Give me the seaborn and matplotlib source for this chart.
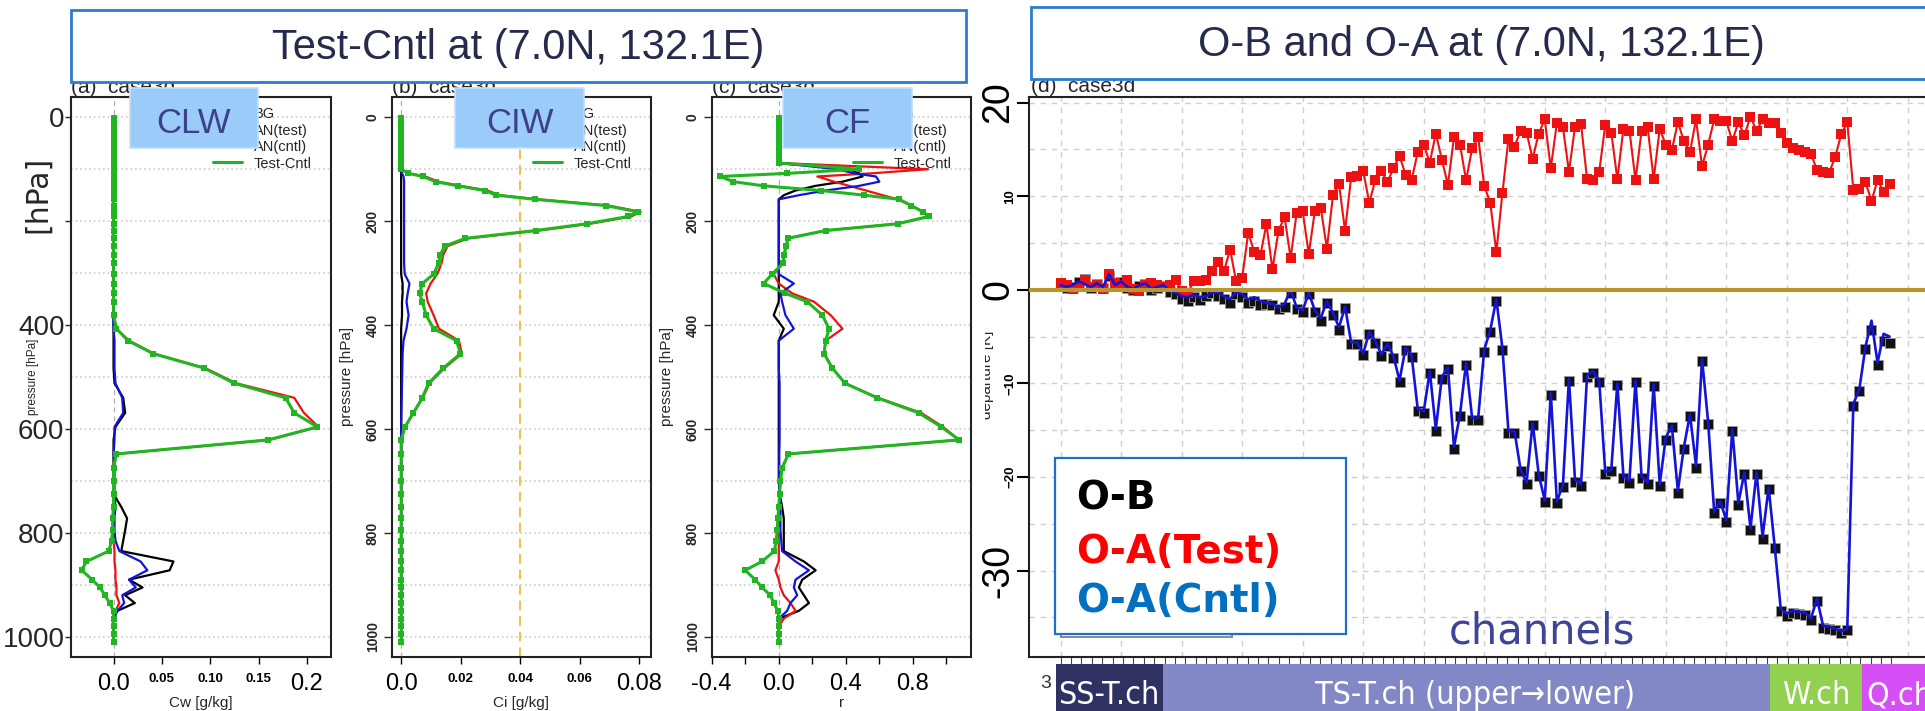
import numpy as np
import pandas as pd
import matplotlib
matplotlib.use("Agg")
import matplotlib.pyplot as plt
import seaborn as sns
from matplotlib.patches import Rectangle
from matplotlib.lines import Line2D
from matplotlib import font_manager as fm

sns.set_style("white")
plt.rcParams["font.family"] = ["Liberation Sans", "DejaVu Sans"]
_fonts = fm.fontManager.ttflist
_narrow = [f for f in _fonts if f.name == "Liberation Sans Narrow" and f.weight in (400, "normal") and f.style == "normal"]
_cond = [f for f in _fonts if f.name == "DejaVu Sans" and f.stretch == "condensed" and f.weight in (400, "normal") and f.style == "normal"]
if _narrow:
    BAND_FONT = dict(fontproperties=fm.FontProperties(fname=_narrow[0].fname, size=26))
elif _cond:
    BAND_FONT = dict(fontproperties=fm.FontProperties(fname=_cond[0].fname, size=23))
else:
    BAND_FONT = dict(family=["Liberation Sans", "DejaVu Sans"], fontsize=21)

# ---------------- data: vertical profiles (panels a-c) ----------------
pressure = [2, 10, 20, 30, 40, 50, 60, 70, 80, 88, 100,
            108, 114, 124, 132, 141, 150, 158, 170, 182, 191,
            205, 218, 233, 248, 265, 281, 302, 320, 339, 355,
            381, 407, 430, 455, 483, 512, 540, 569, 596, 621,
            648, 675, 700, 725, 750, 772, 795, 815, 835, 855,
            872, 890, 905, 920, 935, 950, 965, 980, 995, 1010]

clw_bg = [0, 0, 0, 0, 0, 0, 0, 0, 0, 0, 0,
          0, 0, 0, 0, 0, 0, 0, 0, 0, 0,
          0, 0, 0, 0, 0, 0, 0, 0, 0, 0,
          0, 0, 0, 0, 0, 0.001, 0.010, 0.012, 0.002, 0,
          0, 0, 0, 0, 0.008, 0.014, 0.012, 0.010, 0.008, 0.062,
          0.058, 0.016, 0.030, 0.012, 0.022, 0.004, 0, 0, 0, 0]
clw_test = [0, 0, 0, 0, 0, 0, 0, 0, 0, 0, 0,
            0, 0, 0, 0, 0, 0, 0, 0, 0, 0,
            0, 0, 0, 0, 0, 0, 0, 0, 0, 0,
            0.0, 0.003, 0.016, 0.042, 0.095, 0.127, 0.187, 0.197, 0.212, 0.161,
            0.003, 0, 0, 0, 0, 0, 0, 0, 0.001, 0.001,
            0.002, 0.002, 0.003, 0.003, 0.006, 0.002, 0, 0, 0, 0]
clw_cntl = [0, 0, 0, 0, 0, 0, 0, 0, 0, 0, 0,
            0, 0, 0, 0, 0, 0, 0, 0, 0, 0,
            0, 0, 0, 0, 0, 0, 0, 0, 0, 0,
            0, 0, 0.001, 0.001, 0.001, 0.002, 0.009, 0.010, 0.001, 0.001,
            0, 0.001, 0.001, 0.001, 0.002, 0.001, 0.001, 0.002, 0.006, 0.028,
            0.035, 0.016, 0.023, 0.009, 0.011, 0.004, 0, 0, 0, 0]
clw_diff = [0, 0, 0, 0, 0, 0, 0, 0, 0, 0, 0,
            0, 0, 0, 0, 0, 0, 0, 0, 0, 0,
            0, 0, 0, 0, 0, 0, 0, 0, 0, 0,
            0.0, 0.003, 0.015, 0.041, 0.094, 0.125, 0.178, 0.187, 0.211, 0.160,
            0.003, 0, 0, 0, 0, -0.001, -0.001, -0.002, -0.005, -0.028,
            -0.033, -0.022, -0.014, -0.009, -0.004, 0.0, 0, 0, 0, 0]

ciw_bg = [0, 0, 0, 0, 0, 0, 0, 0, 0, 0, 0,
          0, 0, 0, 0, 0, 0, 0, 0, 0, 0,
          0, 0, 0, 0, 0, 0, 0, 0.0005, 0.0005, 0.0003,
          0.0003, 0, 0, 0, 0, 0, 0, 0, 0, 0,
          0, 0, 0, 0, 0, 0, 0, 0, 0, 0,
          0, 0, 0, 0, 0, 0, 0, 0, 0, 0]
ciw_test = [0, 0, 0, 0, 0, 0, 0, 0, 0, 0, 0,
            0.0027, 0.0081, 0.0126, 0.020, 0.029, 0.033, 0.046, 0.0697, 0.0804, 0.0772,
            0.0633, 0.0462, 0.0226, 0.0156, 0.0141, 0.0136, 0.0121, 0.0099, 0.0084, 0.0089,
            0.0109, 0.0127, 0.0194, 0.0204, 0.0145, 0.0095, 0.0073, 0.0042, 0.0013, 0.0,
            0, 0, 0, 0, 0, 0, 0, 0, 0, 0,
            0, 0, 0, 0, 0, 0, 0, 0, 0, 0]
ciw_cntl = [0, 0, 0, 0, 0, 0, 0, 0, 0, 0, 0,
            0.0003, 0.0008, 0.001, 0.001, 0.001, 0.001, 0.001, 0.001, 0.001, 0.001,
            0.001, 0.001, 0.001, 0.001, 0.001, 0.001, 0.0012, 0.0028, 0.0022, 0.0018,
            0.0025, 0.0018, 0.0008, 0.0005, 0.0004, 0.0003, 0.0002, 0.0001, 0.0, 0.0,
            0, 0, 0, 0, 0, 0, 0, 0, 0, 0,
            0, 0, 0, 0, 0, 0, 0, 0, 0, 0]
ciw_diff = [0, 0, 0, 0, 0, 0, 0, 0, 0, 0, 0,
            0.0024, 0.0073, 0.0116, 0.019, 0.028, 0.032, 0.045, 0.0687, 0.0794, 0.0762,
            0.0623, 0.0452, 0.0216, 0.0146, 0.0131, 0.0126, 0.0109, 0.0071, 0.0062, 0.0071,
            0.0084, 0.0109, 0.0186, 0.0199, 0.0141, 0.0092, 0.0071, 0.0041, 0.0013, 0.0,
            0, 0, 0, 0, 0, 0, 0, 0, 0, 0,
            0, 0, 0, 0, 0, 0, 0, 0, 0, 0]

cf_bg = [0, 0, 0, 0, 0, 0, 0, 0, 0, 0, 0.42,
         0.48, 0.50, 0.38, 0.22, 0.10, 0.03, 0.0, 0, 0, 0,
         0, 0, 0, 0, 0, 0, 0, 0, 0, 0,
         -0.03, 0.03, 0, 0, 0, 0, 0, 0, 0, 0,
         0, 0, 0, 0.005, 0.02, 0.03, 0.03, 0.03, 0.03, 0.15,
         0.22, 0.14, 0.12, 0.15, 0.18, 0.12, 0.0, 0, 0, 0]
cf_test = [0, 0, 0, 0, 0, 0, 0, 0, 0, 0, 0.89,
           0.55, 0.23, 0.33, 0.42, 0.52, 0.62, 0.71, 0.79, 0.86, 0.895,
           0.71, 0.28, 0.054, 0.045, 0.03, 0.025, -0.03, 0.0, 0.08, 0.21,
           0.31, 0.38, 0.28, 0.27, 0.32, 0.395, 0.59, 0.85, 0.98, 1.076,
           0.058, 0.02, 0.01, 0.005, 0.0, 0.0, 0.0, 0.0, 0.0, 0.0,
           -0.02, 0.0, 0.01, 0.03, 0.07, 0.10, 0.03, 0, 0, 0]
cf_cntl = [0, 0, 0, 0, 0, 0, 0, 0, 0, 0, 0.35,
           0.45, 0.58, 0.60, 0.48, 0.28, 0.12, 0.0, 0, 0, 0,
           0, 0, 0, 0, 0, 0, 0.0, 0.09, 0.01, 0.02,
           0.04, 0.09, 0.0, 0, 0, 0.005, 0.005, 0.005, 0.005, 0.005,
           0.003, 0.003, 0.003, 0.005, 0.01, 0.01, 0.01, 0.015, 0.02, 0.10,
           0.18, 0.10, 0.09, 0.11, 0.07, 0.05, 0.0, 0, 0, 0]
cf_diff = [0, 0, 0, 0, 0, 0, 0, 0, 0, 0, 0.48,
           0.05, -0.35, -0.27, -0.09, 0.25, 0.51, 0.72, 0.79, 0.86, 0.895,
           0.71, 0.28, 0.054, 0.045, 0.03, 0.025, -0.04, -0.09, 0.04, 0.17,
           0.26, 0.30, 0.28, 0.27, 0.32, 0.395, 0.587, 0.835, 0.97, 1.076,
           0.058, 0.02, 0.01, 0.005, 0.0, -0.005, -0.01, -0.015, -0.026, -0.10,
           -0.20, -0.14, -0.10, -0.05, -0.03, -0.005, 0.0, 0, 0, 0]

# ---------------- data: departures per channel (panel d) ----------------
ob = [0.4, 0.2, 0.3, 0.8, 1.2, 0.2, 0.6, 0.2, 1.5, 0.4, 0.8, 0.2, 0.0, 0.4, 0.6, 0.0, 0.2, 0.4, -0.2,
      -0.5, -1.0, -1.2, -0.8, -1.1, -0.7, -0.3, -0.7, -1.0, -1.4, -0.5, -0.8, -1.4, -1.2, -1.6, -1.5,
      -1.6, -2.1, -1.8, -0.3, -2.1, -2.4, -0.5, -2.4, -3.3, -1.4, -2.7, -4.3, -1.9, -5.8, -5.8, -7.0,
      -4.7, -5.7, -7.1, -6.0, -7.3, -9.9, -6.4, -7.2, -12.9, -13.2, -8.9, -15.1, -9.5, -8.5, -17.0,
      -13.5, -8.0, -13.9, -13.9, -6.6, -4.5,
      -1.2, -6.4, -15.3, -15.3, -19.4, -20.8, -14.4, -19.9, -22.7, -11.2, -22.8, -21.1, -9.7, -20.5,
      -21.0, -9.3, -8.9, -9.9, -19.7, -19.4, -10.2, -20.1, -20.6, -9.9, -20.1, -20.8, -10.3, -21.0,
      -16.0, -14.7, -21.7, -17.0, -13.5, -19.0, -7.6, -14.3,
      -23.9, -22.8, -24.8, -15.1, -23.0, -19.7, -25.7, -19.7, -26.6, -21.3, -27.6, -34.3, -34.8, -34.5,
      -34.6, -34.7, -35.3, -33.2, -36.1, -36.2, -36.4, -36.7, -36.4, -12.4, -10.8, -6.3, -4.3, -8.0,
      -5.5, -5.7]
oa_test = [0.7, 0.5, 0.1, 0.3, 1.1, 0.3, 0.5, 0.1, 1.65, 0.7, 0.5, 1.1, 0.1, -0.1, 0.5, 0.7, 0.5, 0.3, 0.5,
           1.1, -0.1, -0.3, 0.9, 0.9, 1.1, 2.0, 3.0, 2.0, 4.3, 0.9, 1.3, 6.1, 4.0, 3.7, 7.0,
           2.2, 6.3, 7.8, 3.4, 8.2, 8.4, 3.8, 8.4, 8.7, 4.4, 10.1, 11.3, 6.3, 12.0, 12.2, 12.7,
           9.3, 11.7, 12.7, 11.5, 13.0, 14.3, 12.3, 11.7, 14.7, 15.5, 13.6, 16.7, 13.9, 11.2, 16.3,
           15.5, 11.7, 15.1, 16.3, 11.1, 9.3,
           4.0, 10.3, 16.1, 15.3, 17.0, 16.8, 14.0, 16.7, 18.2, 13.0, 17.8, 17.4, 12.6, 17.4,
           17.7, 11.8, 11.7, 12.6, 17.6, 16.8, 11.8, 17.2, 17.0, 11.7, 17.0, 17.4, 11.8, 17.2,
           15.5, 14.9, 17.9, 15.9, 14.7, 18.2, 13.2, 15.5,
           18.2, 18.0, 18.0, 15.9, 17.9, 16.5, 18.5, 17.0, 18.2, 17.8, 17.8, 16.8, 15.7, 15.1,
           14.9, 14.7, 14.5, 12.8, 12.6, 12.5, 14.2, 16.6, 17.9, 10.7, 10.8, 11.5, 9.5, 11.7,
           10.5, 11.3]
oa_cntl = [0.5, 0.3, 0.5, 0.9, 0.6, 0.3, 0.7, 0.3, 1.65, 0.5, 0.9, 0.3, 0.1, 0.5, 0.7, 0.1, 0.3, 0.5, -0.1,
           -0.3, -0.7, -0.8, -0.5, -0.8, -0.7, -0.3, -0.3, -0.7, -1.0, -0.2, -0.5, -1.0, -0.8, -1.2, -1.4,
           -1.5, -1.9, -1.5, 0.0, -1.9, -2.2, -0.3, -2.2, -3.0, -1.2, -2.5, -4.0, -1.8, -5.6, -5.6, -6.8,
           -4.5, -5.5, -6.9, -5.8, -7.1, -9.7, -6.2, -7.0, -12.7, -13.0, -8.7, -14.9, -9.3, -8.3, -16.8,
           -13.3, -7.8, -13.7, -13.7, -6.4, -4.3,
           -1.0, -6.2, -15.1, -15.1, -19.2, -20.6, -14.2, -19.7, -22.5, -11.0, -22.6, -20.9, -9.5, -20.3,
           -20.8, -9.1, -8.7, -9.7, -19.5, -19.2, -10.0, -19.9, -20.4, -9.7, -19.9, -20.6, -10.1, -20.8,
           -15.8, -14.5, -21.5, -16.8, -13.3, -18.8, -7.4, -14.1,
           -23.7, -22.6, -24.6, -14.9, -22.8, -19.5, -25.5, -19.5, -26.4, -21.1, -27.4, -34.1, -34.6, -34.3,
           -34.4, -34.5, -35.1, -33.0, -35.9, -36.0, -36.2, -36.5, -36.2, -12.2, -10.6, -6.1, -3.3, -7.8,
           -4.7, -5.0]
channel = list(range(len(ob)))

# ---------------- text ----------------
left_title = "Test-Cntl at (7.0N, 132.1E)"
right_title = "O-B and O-A at (7.0N, 132.1E)"
band_labels = ["SS-T.ch", "TS-T.ch (upper\u2192lower)", "W.ch", "Q.ch"]

# ---------------- figure ----------------
W, H = 1925, 711
fig = plt.figure(figsize=(W / 100, H / 100), dpi=100)
fig.patch.set_facecolor("white")


def px_axes(x0, y0, x1, y1):
    return fig.add_axes([x0 / W, 1 - y1 / H, (x1 - x0) / W, (y1 - y0) / H])


def frect(x0, y0, x1, y1, **kw):
    r = Rectangle((x0 / W, 1 - y1 / H), (x1 - x0) / W, (y1 - y0) / H,
                  transform=fig.transFigure, **kw)
    fig.patches.append(r)
    return r


def ftext(x, y, s, **kw):
    return fig.text(x / W, 1 - y / H, s, **kw)


GREEN = "#22b522"
RED = "#ee1111"
BLUE = "#1414d8"

panels = [
    dict(x0=71.4, x1=331.0, xlim=(-0.0436, 0.225), data=(clw_bg, clw_test, clw_cntl, clw_diff),
         xt=[0, 0.05, 0.10, 0.15, 0.2], xtl=["0.0", "0.05", "0.10", "0.15", "0.2"],
         big=[1, 0, 0, 0, 1], minor=[], xlabel="Cw [g/kg]", tag="(a)  case3d"),
    dict(x0=391.6, x1=650.5, xlim=(-0.0032, 0.0837), data=(ciw_bg, ciw_test, ciw_cntl, ciw_diff),
         xt=[0, 0.02, 0.04, 0.06, 0.08], xtl=["0.0", "0.02", "0.04", "0.06", "0.08"],
         big=[1, 0, 0, 0, 1], minor=[], xlabel="Ci [g/kg]", tag="(b)  case3d"),
    dict(x0=711.7, x1=970.7, xlim=(-0.4, 1.145), data=(cf_bg, cf_test, cf_cntl, cf_diff),
         xt=[-0.4, 0.0, 0.4, 0.8], xtl=["-0.4", "0.0", "0.4", "0.8"],
         big=[1, 1, 1, 1], minor=[-0.2, 0.2, 0.6, 1.0], xlabel="r", tag="(c)  case3d"),
]

for k, pn in enumerate(panels):
    ax = px_axes(pn["x0"], 97, pn["x1"], 656.7)
    bg, test, cntl, diff = pn["data"]
    df = pd.DataFrame({"p": pressure, "BG": bg, "AN(test)": test, "AN(cntl)": cntl, "Test-Cntl": diff})
    for h in range(0, 1001, 100):
        ax.axhline(h, color="#c4c4c4", ls=(0, (1, 2)), lw=1.1, zorder=0)
    ax.axvline(0, color="#b0b0b0", ls=(0, (4, 3)), lw=0.9, zorder=0)
    if k == 1:
        ax.axvline(0.04, color="#f2c048", ls=(0, (5, 3)), lw=1.4, zorder=0)
    sns.lineplot(data=df, x="BG", y="p", orient="y", sort=False, estimator=None,
                 color="black", lw=1.6, ax=ax, zorder=2)
    sns.lineplot(data=df, x="AN(test)", y="p", orient="y", sort=False, estimator=None,
                 color=RED, lw=1.6, ax=ax, zorder=3)
    sns.lineplot(data=df, x="AN(cntl)", y="p", orient="y", sort=False, estimator=None,
                 color=BLUE, lw=1.6, ax=ax, zorder=4)
    sns.lineplot(data=df, x="Test-Cntl", y="p", orient="y", sort=False, estimator=None,
                 color=GREEN, lw=2.2, marker="s", markersize=4.2, markeredgewidth=0, ax=ax, zorder=5)
    ax.set_xlim(*pn["xlim"])
    ax.set_ylim(1038.3, -39)
    for s in ax.spines.values():
        s.set_color("#222222")
        s.set_linewidth(1.5)
    ax.set_xticks(pn["xt"])
    ax.set_xticklabels(pn["xtl"])
    if pn["minor"]:
        ax.set_xticks(pn["minor"], minor=True)
    for lab, b in zip(ax.get_xticklabels(), pn["big"]):
        lab.set_fontsize(17 if b else 9.5)
        lab.set_fontweight("normal" if b else "bold")
    ax.tick_params(axis="x", which="both", direction="out", length=5, width=1, pad=6.5,
                   bottom=True, colors="black")
    ax.set_xlabel(pn["xlabel"], fontsize=11, labelpad=1)
    ax.set_yticks([0, 200, 400, 600, 800, 1000])
    if k == 0:
        ax.set_yticklabels(["0", "", "400", "600", "800", "1000"])
        for lab in ax.get_yticklabels():
            lab.set_fontsize(20)
            lab.set_bbox(dict(facecolor="white", edgecolor="none", pad=0))
        ax.tick_params(axis="y", direction="out", length=4, width=1, pad=1, left=True)
        ax.set_ylabel("")
        ax.text(-0.148, 0.5, "pressure [hPa]", transform=ax.transAxes, rotation=90,
                ha="center", va="center", fontsize=8.5, zorder=1, clip_on=False)
    else:
        ax.set_yticklabels(["0", "200", "400", "600", "800", "1000"], rotation=90,
                           va="center", fontweight="bold", fontsize=10)
        ax.tick_params(axis="y", direction="out", length=6, width=1, pad=2.5, left=True)
        ax.set_ylabel("pressure [hPa]", fontsize=11)
        ax.yaxis.set_label_coords(-0.145, 0.5)
    handles = [Line2D([], [], color="black", lw=1.6), Line2D([], [], color=RED, lw=1.6),
               Line2D([], [], color=BLUE, lw=1.6), Line2D([], [], color=GREEN, lw=2.2)]
    ax.legend(handles, ["BG", "AN(test)", "AN(cntl)", "Test-Cntl"], loc="upper left",
              bbox_to_anchor=(0.545, 0.982), frameon=False, fontsize=10.5, handlelength=2.0,
              handletextpad=0.8, labelspacing=0.17, borderpad=0, borderaxespad=0)
    ftext(pn["x0"], 93, pn["tag"], fontsize=15, va="baseline", ha="left", zorder=3)

ftext(38, 194, "[hPa]", fontsize=21.5, rotation=90, ha="center", va="center", zorder=12,
      family=["DejaVu Sans"])

# ---------------- panel (d) ----------------
axd = px_axes(1028.6, 97, 1932, 656.7)
dfd = pd.DataFrame({"channel": channel, "O-B": ob, "O-A(Test)": oa_test, "O-A(Cntl)": oa_cntl})
for v in range(0, 141, 10):
    axd.axvline(v, color="#cfcfcf", ls=(0, (4, 4)), lw=1.0, zorder=0)
for h in range(-35, 21, 5):
    if h != 0:
        axd.axhline(h, color="#cfcfcf", ls=(0, (4, 4)), lw=1.0, zorder=0)
sns.scatterplot(data=dfd, x="channel", y="O-B", marker="s", s=58, color="#111111",
                edgecolor="#9a9a9a", linewidth=0.6, ax=axd, zorder=3)
sns.lineplot(data=dfd, x="channel", y="O-A(Test)", color=RED, lw=1.5, marker="s",
             markersize=6.6, markeredgewidth=0, estimator=None, ax=axd, zorder=4)
sns.lineplot(data=dfd, x="channel", y="O-A(Cntl)", color=BLUE, lw=1.9, estimator=None,
             ax=axd, zorder=5)
axd.axhline(0, color="#b8962c", lw=3, zorder=6)
axd.set_xlim(-5.3, 144.0)
axd.set_ylim(-39.2, 20.6)
for s in axd.spines.values():
    s.set_color("#222222")
    s.set_linewidth(1.5)
axd.set_xticks(np.linspace(0, 137.3, 81))
axd.set_xticklabels([])
axd.tick_params(axis="x", direction="out", length=5, width=0.8, bottom=True, colors="#444444")
axd.set_xlabel("")
axd.set_ylabel("")
dyt = [-30, -20, -10, 0, 10, 20]
dbig = [1, 0, 0, 1, 0, 1]
axd.set_yticks(dyt)
axd.set_yticklabels(["-30", "\u221220", "\u221210", "0", "10", "20"], rotation=90, va="center")
for lab, b in zip(axd.get_yticklabels(), dbig):
    lab.set_fontsize(27 if b else 9.5)
    lab.set_fontweight("normal" if b else "bold")
axd.tick_params(axis="y", direction="out", length=9, width=1.5, pad=0, left=True, colors="black")
ftext(1031, 92, "(d)  case3d", fontsize=15, va="baseline", ha="left", zorder=3)
ftext(987, 375, "departure [K]", fontsize=11, rotation=90, ha="center", va="center", zorder=3)
frect(973, 300, 985, 460, facecolor="white", edgecolor="none", zorder=4)

frect(1061, 600, 1232, 637, facecolor="white", edgecolor="#8c8c8c", lw=1.5, zorder=8)
frect(1055, 458, 1346, 634, facecolor="white", edgecolor="#1a73c8", lw=1.6, zorder=9)
ftext(1076, 509, "O-B", fontsize=28, color="black", fontweight="bold", family=["DejaVu Sans"],
      va="baseline", zorder=10)
ftext(1076, 563, "O-A(Test)", fontsize=28, color="#ff0000", fontweight="bold",
      family=["DejaVu Sans"], va="baseline", zorder=10)
ftext(1076, 612, "O-A(Cntl)", fontsize=28, color="#0070c0", fontweight="bold",
      family=["DejaVu Sans"], va="baseline", zorder=10)
ftext(1542, 643, "channels", fontsize=30, color="#3f4596", family=["DejaVu Sans"],
      ha="center", va="baseline", zorder=10)

# ---------------- overlay boxes ----------------
frect(71.4, 10, 966, 82, facecolor="white", edgecolor="#2a7cd0", lw=2, zorder=10)
ftext(518, 48, left_title, fontsize=30, color="#262a4d", ha="center", va="center", zorder=11)
frect(1031, 7, 1940, 79, facecolor="white", edgecolor="#2a7cd0", lw=2, zorder=10)
ftext(1481, 45, right_title, fontsize=30, color="#262a4d", ha="center", va="center", zorder=11)

for (bx0, bx1, lbl, cx) in [(129.5, 258.3, "CLW", 193), (454.7, 583.5, "CIW", 520), (783, 912, "CF", 847)]:
    frect(bx0, 88, bx1, 148, facecolor="#9bcbf8", edgecolor="#c4defc", lw=1.2, zorder=10)
    ftext(cx, 133, lbl, fontsize=25, color="#3c418c", ha="center", va="baseline", zorder=11)

# ---------------- channel-type band ----------------
ftext(1046, 684, "3", fontsize=14, color="#333333", ha="center", va="center", zorder=3)
band = [(1056, 1162.6, "#2f3163"), (1162.6, 1769.5, "#8188c5"), (1769.5, 1861.7, "#92d050"),
        (1861.7, 1930, "#d64ff6")]
for (b0, b1, col) in band:
    frect(b0, 664, b1, 715, facecolor=col, edgecolor="none", zorder=10)
ftext(1109, 704, band_labels[0], color="white", ha="center", va="baseline", zorder=11, **BAND_FONT)
ftext(1475, 704, band_labels[1], color="white", ha="center", va="baseline", zorder=11, **BAND_FONT)
ftext(1816, 704, band_labels[2], color="white", ha="center", va="baseline", zorder=11, **BAND_FONT)
ftext(1866, 704, band_labels[3], color="white", ha="left", va="baseline", zorder=11, **BAND_FONT)

fig.savefig("out.png", dpi=100)
